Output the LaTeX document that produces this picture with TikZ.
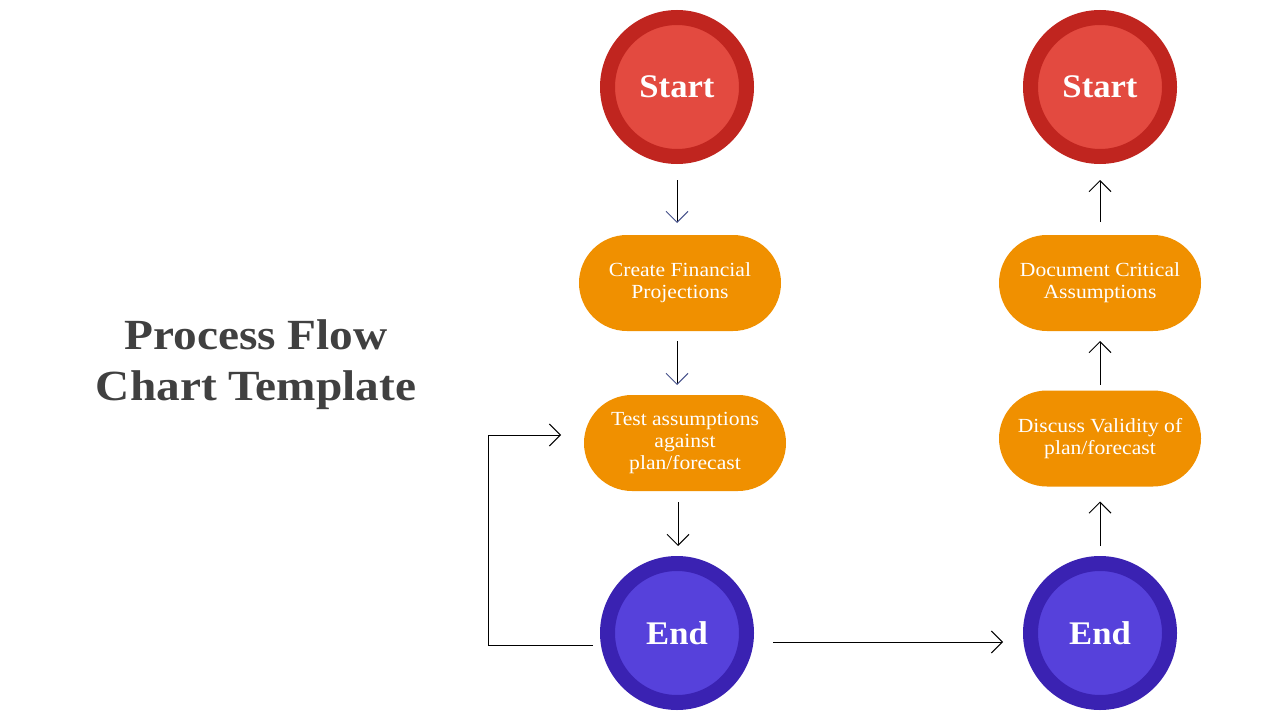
\documentclass[tikz,border=0pt]{standalone}
\usepackage{fontspec}
\setmainfont{Liberation Serif}
\newfontfamily\titlefont[FakeStretch=1.1]{Liberation Serif}
\newfontfamily\pillfont[FakeStretch=1.08]{Liberation Serif}
\newfontfamily\ringfont[FakeStretch=1.05]{Liberation Serif}
\usetikzlibrary{arrows.meta,calc}
\definecolor{redout}{HTML}{C0251F}
\definecolor{redin}{HTML}{E34A40}
\definecolor{blueout}{HTML}{3A22B2}
\definecolor{bluein}{HTML}{5641DB}
\definecolor{pillorange}{HTML}{F09000}
\definecolor{titlegray}{HTML}{404040}
\definecolor{headnavy}{HTML}{44508A}
\tikzset{
  ring/.style={circle, draw=#1out, fill=#1in, line width=15pt, minimum size=139pt, inner sep=0pt, outer sep=0pt,
    text=white, font=\ringfont\fontsize{33}{36}\selectfont\bfseries},
  pill/.style={fill=pillorange, rounded corners=48pt, minimum width=202pt, minimum height=96pt, inner sep=0pt, outer sep=0pt,
    text=white, align=center, font=\pillfont\fontsize{20}{22}\selectfont},
  arr/.style={line width=1pt, -{Straight Barb[length=11pt,width=22pt,line width=1pt]}},
  navyarr/.style={line width=1pt, -{Straight Barb[length=11pt,width=22pt,line width=1pt,color=headnavy]}}
}
\begin{document}
\begin{tikzpicture}[x=1pt,y=-1pt]
\useasboundingbox (0,0) rectangle (1280,720);
\node[text=titlegray, align=center, font=\titlefont\fontsize{43}{51}\selectfont\bfseries] (title) at (256,365) {Process Flow\\Chart Template};
\node[ring=red] (s1) at (677,87) {Start};
\node[ring=red] (s2) at (1100,87) {Start};
\node[ring=blue] (e1) at (677,633) {End};
\node[ring=blue] (e2) at (1100,633) {End};
\node[pill] (p1) at (680,283) {Create Financial\\Projections};
\node[pill] (p2) at (685,443) {Test assumptions\\against\\plan/forecast};
\node[pill] (p3) at (1100,283) {Document Critical\\Assumptions};
\node[pill] (p4) at (1100,438.5) {Discuss Validity of\\plan/forecast};
% left column
\draw[navyarr, shorten <=23.5pt, shorten >=12pt] (s1.south) -- (s1.south |- p1.north);
\draw[navyarr, shorten <=10pt, shorten >=10pt] (s1.south |- p1.south) -- (s1.south |- p2.north);
\draw[arr, shorten <=11pt, shorten >=17.5pt] ([xshift=1pt]s1.south |- p2.south) -- ([xshift=1pt]e1.north);
% right column
\draw[arr, shorten <=17.5pt, shorten >=15pt] (e2.north) -- (p4.south);
\draw[arr, shorten <=6pt, shorten >=10pt] (p4.north) -- (p3.south);
\draw[arr, shorten <=13pt, shorten >=23.5pt] (p3.north) -- (s2.south);
% loop back
\draw[arr] ([xshift=-14.5pt,yshift=-12pt]e1.west) -- ++(-105,0) |- ([xshift=-23pt,yshift=8pt]p2.west);
% across
\draw[arr, shorten <=26.5pt, shorten >=27.5pt] ([yshift=-9pt]e1.east) -- ([yshift=-9pt]e2.west);
\end{tikzpicture}
\end{document}
